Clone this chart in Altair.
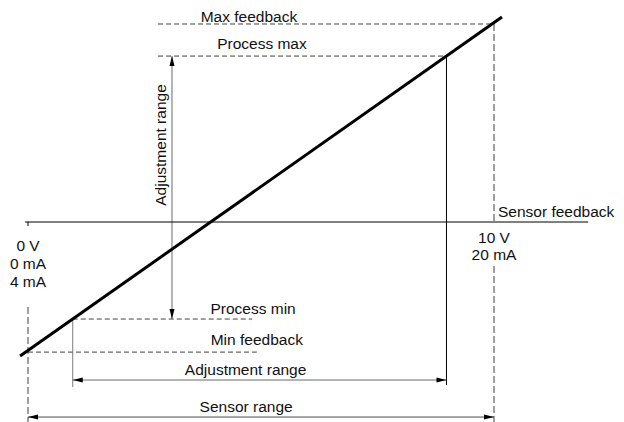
import altair as alt
import pandas as pd

# ---- coordinate system: x = sensor signal (V), y = feedback (% of max feedback)
X_DOMAIN = [-0.4292, 12.618]
Y_DOMAIN = [-101.0, 108.08]
W, H = 608, 414

# thick characteristic line
LINE_V = [-0.17, 10.17]
LINE_U = [-67.7, 103.5]

# dashed horizontal guides: max feedback, process max, process min, min feedback
DH_V0 = [2.79, 2.79, 0.96, 0.00]
DH_V1 = [10.0, 8.98, 4.81, 4.91]
DH_U = [100.0, 83.8, -49.0, -65.7]

# dashed vertical guides: 10 V (upper), 10 V (lower), 0 V (lower)
DV_V = [10.0, 10.0, 0.0]
DV_U0 = [100.0, -22.2, -42.9]
DV_U1 = [0.0, -101.0, -101.0]

# solid segments
S_V0 = [3.09, 0.96, 0.96, 0.00, -0.064, 0.0, 8.98]
S_V1 = [3.09, 0.96, 8.98, 10.0, 12.02, 0.0, 8.98]
S_U0 = [83.8, -49.0, -79.8, -98.5, 0.0, 0.0, 83.8]
S_U1 = [-49.0, -83.3, -79.8, -98.5, 0.0, -2.0, -82.3]
S_COL = ["#6a6a6a", "#7a7a7a", "#6a6a6a", "#4a4a4a", "#000000", "#000000", "#000000"]

# arrow heads
AR_V = [3.09, 3.09, 0.96, 8.98, 0.0, 10.0]
AR_U = [83.8, -49.0, -79.8, -79.8, -98.5, -98.5]
AR_DIR = ["up", "down", "left", "right", "left", "right"]
SHAPES = {
    "up": "M0,0L-0.25,1L0.25,1Z",
    "down": "M0,0L-0.25,-1L0.25,-1Z",
    "left": "M0,0L1,-0.25L1,0.25Z",
    "right": "M0,0L-1,-0.25L-1,0.25Z",
}

# labels
T_TEXT = ["Max feedback", "Process max", "Process min", "Min feedback",
          "Adjustment range", "Sensor range", "10 V", "20 mA",
          "0 V", "0 mA", "4 mA"]
T_V = [4.74, 5.02, 4.83, 4.91, 4.67, 4.68, 10.0, 10.0, 0.0, 0.0, 0.0]
T_U = [103.5, 89.9, -43.9, -59.6, -74.7, -93.4, -8.1, -16.7, -12.1, -21.2, -30.3]

FONT = "Liberation Sans"
FS = 15.5

xs = alt.Scale(domain=X_DOMAIN, nice=False, zero=False)
ys = alt.Scale(domain=Y_DOMAIN, nice=False, zero=False)

def X(f):
    return alt.X(f, type="quantitative", scale=xs, axis=None)

def Y(f):
    return alt.Y(f, type="quantitative", scale=ys, axis=None)

dh = pd.DataFrame({"v0": DH_V0, "v1": DH_V1, "u": DH_U})
dv = pd.DataFrame({"v": DV_V, "u0": DV_U0, "u1": DV_U1})
sol = pd.DataFrame({"v0": S_V0, "v1": S_V1, "u0": S_U0, "u1": S_U1, "c": S_COL})
line = pd.DataFrame({"v": LINE_V, "u": LINE_U})
arr = pd.DataFrame({"v": AR_V, "u": AR_U, "shape": [SHAPES[d] for d in AR_DIR]})
txt = pd.DataFrame({"t": T_TEXT, "v": T_V, "u": T_U})
rot = pd.DataFrame({"t": ["Adjustment range"], "v": [2.85], "u": [38.9]})
sf = pd.DataFrame({"t": ["Sensor feedback"], "v": [10.085], "u": [5.05]})

l_dh = alt.Chart(dh).mark_rule(color="#404040", strokeWidth=1, strokeDash=[5, 3]).encode(
    x=X("v0"), x2="v1", y=Y("u"))
l_dv = alt.Chart(dv).mark_rule(color="#404040", strokeWidth=1, strokeDash=[7, 3]).encode(
    x=X("v"), y=Y("u0"), y2="u1")
l_sol = alt.Chart(sol).mark_rule(strokeWidth=1).encode(
    x=X("v0"), x2="v1", y=Y("u0"), y2="u1", color=alt.Color("c:N", scale=None))
l_line = alt.Chart(line).mark_line(color="black", strokeWidth=3, strokeCap="butt").encode(
    x=X("v"), y=Y("u"))
l_arr = alt.Chart(arr).mark_point(filled=True, color="black", size=400, opacity=1, strokeWidth=0).encode(
    x=X("v"), y=Y("u"), shape=alt.Shape("shape:N", scale=None))
l_txt = alt.Chart(txt).mark_text(font=FONT, fontSize=FS, color="#111111", align="center", baseline="middle").encode(
    x=X("v"), y=Y("u"), text="t:N")
l_rot = alt.Chart(rot).mark_text(font=FONT, fontSize=FS, color="#111111", align="center", baseline="middle", angle=270).encode(
    x=X("v"), y=Y("u"), text="t:N")
l_sf = alt.Chart(sf).mark_text(font=FONT, fontSize=FS, color="#111111", align="left", baseline="middle").encode(
    x=X("v"), y=Y("u"), text="t:N")

chart = alt.layer(l_dh, l_dv, l_sol, l_line, l_arr, l_txt, l_rot, l_sf).properties(
    width=W, height=H, padding=0, autosize=alt.AutoSizeParams(type="none"),
    background="white"
).configure_view(stroke=None)

chart.save("out.html", embed_options={"renderer": "svg", "actions": False})
